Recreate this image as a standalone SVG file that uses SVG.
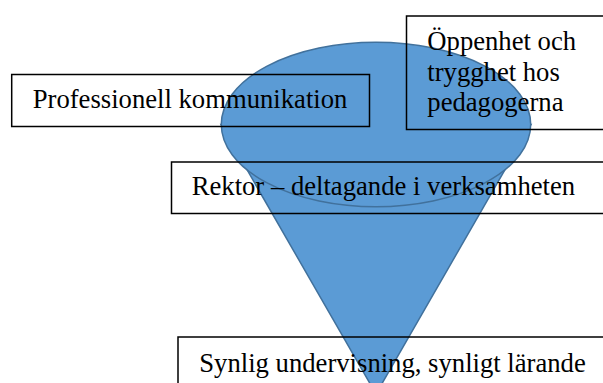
<svg xmlns="http://www.w3.org/2000/svg" width="603" height="383" viewBox="0 0 603 383">
  <style>
    .shape { fill: #5B9BD5; stroke: #41719C; stroke-width: 1.5; }
    .box { fill: none; stroke: #000000; stroke-width: 1.5; }
    .label { font-family: "Liberation Serif", "Times New Roman", serif; font-size: 26.67px; fill: #000000; }
  </style>
  <rect width="603" height="383" fill="#ffffff"/>
  <g id="cone">
    <polygon class="shape" points="221,124.5 531,124.5 376,394"/>
    <ellipse class="shape" cx="376" cy="124.5" rx="154.7" ry="82.2"/>
  </g>
  <g id="node-professionell">
    <rect class="box" x="11.7" y="74.5" width="357.8" height="52"/>
    <text class="label" x="32.7" y="108">Professionell kommunikation</text>
  </g>
  <g id="node-oppenhet">
    <rect class="box" x="406.5" y="16" width="220" height="113.5"/>
    <text class="label" x="427.3" y="50">Öppenhet och</text>
    <text class="label" x="427.3" y="80.5">trygghet hos</text>
    <text class="label" x="427.3" y="111">pedagogerna</text>
  </g>
  <g id="node-rektor">
    <rect class="box" x="171.5" y="162" width="450" height="51.5"/>
    <text class="label" x="191.7" y="195">Rektor – deltagande i verksamheten</text>
  </g>
  <g id="node-synlig">
    <rect class="box" x="178" y="337" width="450" height="60"/>
    <text class="label" x="199.3" y="371.7">Synlig undervisning, synligt lärande</text>
  </g>
  <g id="connectors"></g>
</svg>
